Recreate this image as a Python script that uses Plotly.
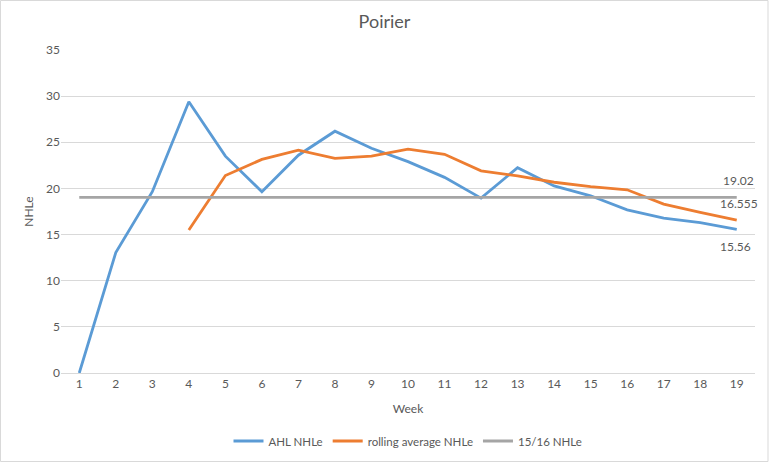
import plotly.graph_objects as go

weeks = list(range(1, 20))
week_labels = [str(w) for w in weeks]
ahl_nhle = [0, 13.05, 19.65, 29.4, 23.5, 19.65, 23.6, 26.2, 24.35, 22.9,
            21.2, 18.95, 22.25, 20.27, 19.2, 17.67, 16.77, 16.3, 15.56]
rolling_weeks = list(range(4, 20))
rolling_avg = [15.5, 21.4, 23.15, 24.15, 23.25, 23.5, 24.25, 23.7, 21.9,
               21.35, 20.67, 20.2, 19.85, 18.3, 17.4, 16.555]
prev_nhle = [19.02] * 19

FONT = "Lato"
TXT = "#595959"

fig = go.Figure()
fig.add_trace(go.Scatter(x=weeks, y=ahl_nhle, mode="lines", name="AHL NHLe",
                         line=dict(color="#5B9BD5", width=2.8)))
fig.add_trace(go.Scatter(x=rolling_weeks, y=rolling_avg, mode="lines", name="rolling average NHLe",
                         line=dict(color="#ED7D31", width=2.8)))
fig.add_trace(go.Scatter(x=weeks, y=prev_nhle, mode="lines", name="15/16 NHLe",
                         line=dict(color="#A5A5A5", width=2.8)))

# end-point data labels
fig.add_annotation(x=weeks[-1], y=prev_nhle[-1], text=f"{prev_nhle[-1]:g}", showarrow=False,
                   yshift=17, xshift=2, font=dict(family=FONT, size=12, color=TXT))
fig.add_annotation(x=rolling_weeks[-1], y=rolling_avg[-1], text=f"{rolling_avg[-1]:g}", showarrow=False,
                   yshift=17, xshift=2, font=dict(family=FONT, size=12, color=TXT))
fig.add_annotation(x=weeks[-1], y=ahl_nhle[-1], text=f"{ahl_nhle[-1]:g}", showarrow=False,
                   yshift=-17, xshift=-1, font=dict(family=FONT, size=12, color=TXT))

# chart border
fig.add_shape(type="rect", xref="paper", yref="paper",
              x0=(0.5 - 61) / 694, x1=(768 - 61) / 694,
              y0=(373 - 461.5) / 323, y1=(373 - 0.5) / 323,
              line=dict(color="#D9D9D9", width=1), layer="below")

fig.update_layout(
    width=769, height=463,
    margin=dict(l=61, r=14, t=50, b=90, autoexpand=False),
    paper_bgcolor="white", plot_bgcolor="white",
    font=dict(family=FONT, size=12, color=TXT),
    title=dict(text="Poirier", x=0.5, xref="container", xanchor="center",
               y=1 - 22 / 463, yanchor="middle",
               font=dict(family=FONT, size=18, color=TXT), automargin=False),
    showlegend=True,
    legend=dict(orientation="h", x=0.5, xanchor="center", y=(373 - 441) / 323, yanchor="middle",
                font=dict(family=FONT, size=11.5, color=TXT), itemwidth=30),
    xaxis=dict(range=[0.5, 19.5], tickmode="array", tickvals=weeks, ticktext=week_labels,
               showgrid=False, zeroline=False, showline=True, linecolor="#D9D9D9",
               ticks="", automargin=False,
               title=dict(text="Week", font=dict(family=FONT, size=12, color=TXT), standoff=14),
               tickfont=dict(family=FONT, size=12, color=TXT)),
    yaxis=dict(range=[0, 35], dtick=5, showgrid=True, gridcolor="#D9D9D9", gridwidth=1,
               zeroline=False, showline=False, ticks="", automargin=False,
               title=dict(text="NHLe", font=dict(family=FONT, size=12, color=TXT), standoff=9),
               tickfont=dict(family=FONT, size=12, color=TXT)),
)

fig.write_html("out.html", config={"displayModeBar": False},
               post_script="document.body.style.margin='0';document.body.style.overflow='hidden';")
